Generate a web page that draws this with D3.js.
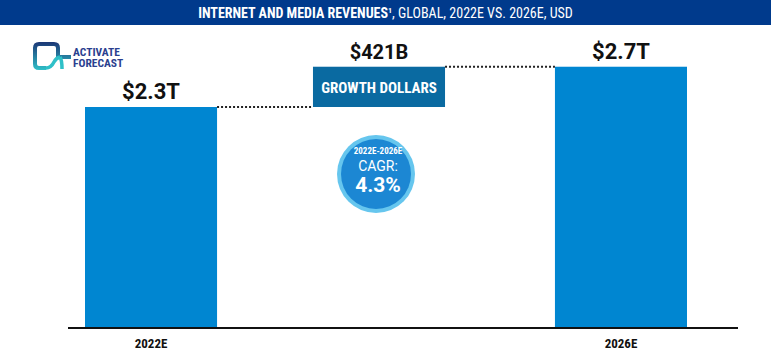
<!DOCTYPE html>
<html>
<head>
<meta charset="utf-8">
<script src="https://cdn.jsdelivr.net/npm/d3@7"></script>
<style>
  body { margin:0; background:#fff; }
  svg { display:block; font-family: Roboto, "Liberation Sans", sans-serif; }
  .cond { font-family: "Roboto Condensed", Roboto, sans-serif; font-stretch: condensed; }
</style>
</head>
<body>
<div id="chart"></div>
<script>
// data (trillions USD)
const categories = ["2022E", "GROWTH", "2026E"];
const years = ["2022E", "2026E"];
const revenues = [2.3, 2.721];
const valueLabels = ["$2.3T", "$2.7T"];
const growthLabel = "$421B";
const cagrLabel = "4.3%";

const W = 771, H = 361;
const base = 327;

const svg = d3.select("#chart").append("svg")
  .attr("width", W).attr("height", H);

// title bar
svg.append("rect").attr("x", 0).attr("y", 0).attr("width", W).attr("height", 25)
  .attr("fill", "#003a8c");
const title = svg.append("text").attr("class", "cond").attr("x", W/2).attr("y", 17.5)
  .attr("text-anchor", "middle").attr("fill", "#fff")
  .style("font-size", "14px");
title.append("tspan").text("INTERNET AND MEDIA REVENUES").style("font-weight", "bold");
title.append("tspan").text("1").style("font-size", "8px").attr("dy", -5).style("font-weight", "bold");
title.append("tspan").text(", GLOBAL, 2022E VS. 2026E, USD").attr("dy", 5);

// logo
const logo = svg.append("g");
const grad = svg.append("defs").append("linearGradient").attr("id", "lg")
  .attr("gradientUnits", "userSpaceOnUse")
  .attr("x1", 0).attr("y1", 43).attr("x2", 0).attr("y2", 70);
grad.append("stop").attr("offset", "0%").attr("stop-color", "#1d3b78");
grad.append("stop").attr("offset", "100%").attr("stop-color", "#2fc0c8");
logo.append("path")
  .attr("d", "M46,68 L39,68 Q35,68 35,64 L35,48 Q35,44 39,44 L54,44 Q58,44 58,48 L58,57 L71,57")
  .attr("fill", "none").attr("stroke", "url(#lg)").attr("stroke-width", 4).attr("stroke-linejoin", "round");
logo.append("path")
  .attr("d", "M46,68 Q51,68 54,62 Q56,58 60,57 M60,57 Q62,60 62,69")
  .attr("fill", "none").attr("stroke", "#2fc0c8").attr("stroke-width", 3.5);
logo.append("text").attr("class", "cond").attr("x", 73).attr("y", 55.5).text("ACTIVATE")
  .attr("fill", "#2a3f8f").style("font-size", "11.5px").style("font-weight", "bold");
logo.append("text").attr("class", "cond").attr("x", 73).attr("y", 66.5).text("FORECAST")
  .attr("fill", "#2a3f8f").style("font-size", "11.5px").style("font-weight", "bold");

// scales
const x = d3.scaleBand().domain(categories).range([85, 687]).paddingInner(0.438).paddingOuter(0);
const y = d3.scaleLinear().domain([0, 2.3]).range([base, 107]);

// bars
svg.selectAll("rect.bar").data(years).enter().append("rect")
  .attr("class", "bar")
  .attr("x", d => x(d))
  .attr("y", (d, i) => y(revenues[i]))
  .attr("width", x.bandwidth())
  .attr("height", (d, i) => base - y(revenues[i]))
  .attr("fill", "#0086d1");

// value labels
svg.selectAll("text.val").data(years).enter().append("text")
  .attr("class", "val")
  .attr("x", d => x(d) + x.bandwidth()/2)
  .attr("y", (d, i) => y(revenues[i]) - 8)
  .attr("text-anchor", "middle")
  .style("font-size", "22px").style("font-weight", "bold").attr("fill", "#111")
  .text((d, i) => valueLabels[i]);

// growth box (sits a little left of the band centre in the original)
const gx = x("GROWTH") - 7;
svg.append("rect")
  .attr("x", gx).attr("y", y(revenues[1]))
  .attr("width", x.bandwidth()).attr("height", y(revenues[0]) - y(revenues[1]))
  .attr("fill", "#0a6aa1");
svg.append("text").attr("class", "cond").attr("x", gx + x.bandwidth()/2).attr("y", (y(revenues[0]) + y(revenues[1]))/2 + 6)
  .attr("text-anchor", "middle").attr("fill", "#fff")
  .style("font-size", "15px").style("font-weight", "bold")
  .text("GROWTH DOLLARS");
svg.append("text").attr("x", gx + x.bandwidth()/2).attr("y", y(revenues[1]) - 8)
  .attr("text-anchor", "middle").attr("fill", "#111")
  .style("font-size", "20px").style("font-weight", "bold")
  .text(growthLabel);

// dotted connectors
svg.append("line")
  .attr("x1", x("2022E") + x.bandwidth()).attr("x2", gx)
  .attr("y1", y(revenues[0])).attr("y2", y(revenues[0]))
  .attr("stroke", "#222").attr("stroke-width", 2).attr("stroke-dasharray", "2,2");
svg.append("line")
  .attr("x1", gx + x.bandwidth()).attr("x2", x("2026E"))
  .attr("y1", y(revenues[1])).attr("y2", y(revenues[1]))
  .attr("stroke", "#222").attr("stroke-width", 2).attr("stroke-dasharray", "2,2");

// CAGR bubble
const cx = 376, cy = 174;
svg.append("circle").attr("cx", cx).attr("cy", cy).attr("r", 39).attr("fill", "#66c6ee");
svg.append("circle").attr("cx", cx).attr("cy", cy).attr("r", 35).attr("fill", "#1c87d3");
svg.append("text").attr("class", "cond").attr("x", cx + 2).attr("y", cy - 20).attr("text-anchor", "middle").attr("fill", "#fff")
  .style("font-size", "9px").style("font-weight", "bold").text("2022E-2026E");
svg.append("text").attr("x", cx + 2).attr("y", cy - 3).attr("text-anchor", "middle").attr("fill", "#fff")
  .style("font-size", "14px").text("CAGR:");
svg.append("text").attr("x", cx + 2).attr("y", cy + 18).attr("text-anchor", "middle").attr("fill", "#fff")
  .style("font-size", "21px").style("font-weight", "bold").text(cagrLabel);

// axis
const axis = svg.append("g").attr("transform", `translate(0,${base})`)
  .call(d3.axisBottom(x).tickValues(years).tickSize(0).tickPadding(12));
axis.select(".domain").remove();
svg.append("line").attr("x1", 68).attr("x2", 738).attr("y1", base + 1).attr("y2", base + 1)
  .attr("stroke", "#111").attr("stroke-width", 2);
axis.selectAll("text").attr("class", "cond")
  .style("font-size", "13px").style("font-weight", "bold").attr("fill", "#111");
</script>
</body>
</html>
